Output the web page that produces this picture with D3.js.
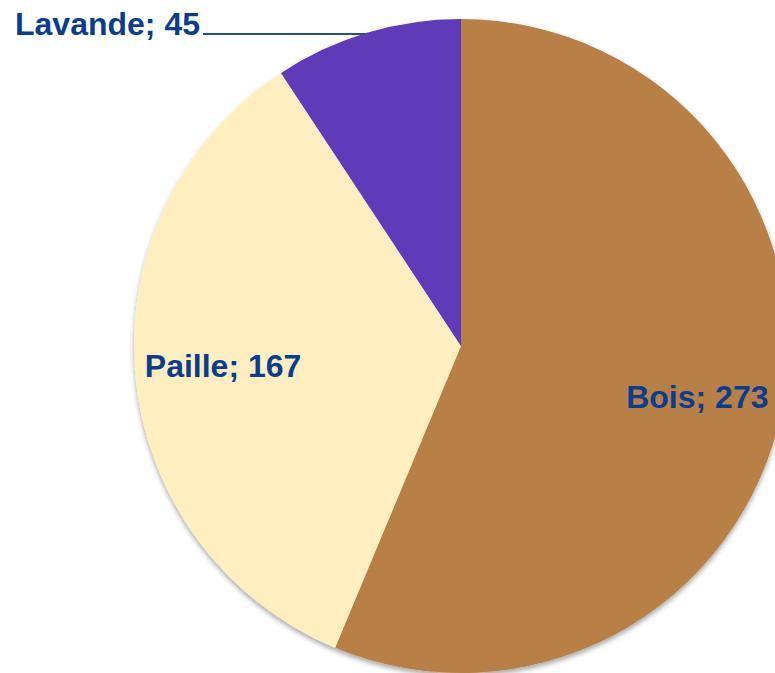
<!DOCTYPE html>
<html><head><meta charset="utf-8">
<script src="https://cdn.jsdelivr.net/npm/d3@7"></script>
<style>html,body{margin:0;padding:0;background:#fff;overflow:hidden}</style>
</head><body>
<svg id="c" width="775" height="673"></svg>
<script>
const categories = ["Bois", "Paille", "Lavande"];
const values = [273, 167, 45];
const colors = ["#B88046", "#FFEFC0", "#5E3ABA"];

const svg = d3.select("#c");
const cx = 461, cy = 346, R = 327;
const defs = svg.append("defs");
const f = defs.append("filter").attr("id","sh").attr("x","-10%").attr("y","-10%").attr("width","120%").attr("height","120%");
f.append("feDropShadow").attr("dx",0).attr("dy",3).attr("stdDeviation",2.5).attr("flood-color","#000").attr("flood-opacity",0.35);

const data = categories.map((c,i)=>({cat:c, v:values[i], col:colors[i]}));
const pie = d3.pie().value(d=>d.v).sort(null);
const arcs = pie(data);
const arc = d3.arc().innerRadius(0).outerRadius(R);
const labelArc = d3.arc().innerRadius(240).outerRadius(240);
const labelDy = {Bois: 15, Paille: 8};

const g = svg.append("g").attr("transform",`translate(${cx},${cy})`);
const pg = g.append("g").attr("filter","url(#sh)");
pg.selectAll("path").data(arcs).join("path")
  .attr("d", arc).attr("fill", d=>d.data.col);

const txtCol = "#0B3D8F";
arcs.forEach(a=>{
  if (a.data.cat === "Lavande") {
    const ly = 34 - cy;
    const lx = -Math.sqrt(R*R - ly*ly);
    g.append("line").attr("x1", 203-cx).attr("x2", lx+3).attr("y1", ly).attr("y2", ly)
      .attr("stroke", "#1F4E9E").attr("stroke-width", 2);
    g.append("text").attr("x", 15-cx).attr("y", 35-cy)
      .attr("font-family","Liberation Sans, Arial, sans-serif").attr("font-weight","bold")
      .attr("font-size", 32).attr("fill", txtCol)
      .text(`${a.data.cat}; ${a.data.v}`);
  } else {
    const [x,y] = labelArc.centroid(a);
    g.append("text").attr("x", x+1).attr("y", y+labelDy[a.data.cat]).attr("text-anchor","middle")
      .attr("font-family","Liberation Sans, Arial, sans-serif").attr("font-weight","bold")
      .attr("font-size", 32).attr("fill", txtCol)
      .text(`${a.data.cat}; ${a.data.v}`);
  }
});
</script>
</body></html>
